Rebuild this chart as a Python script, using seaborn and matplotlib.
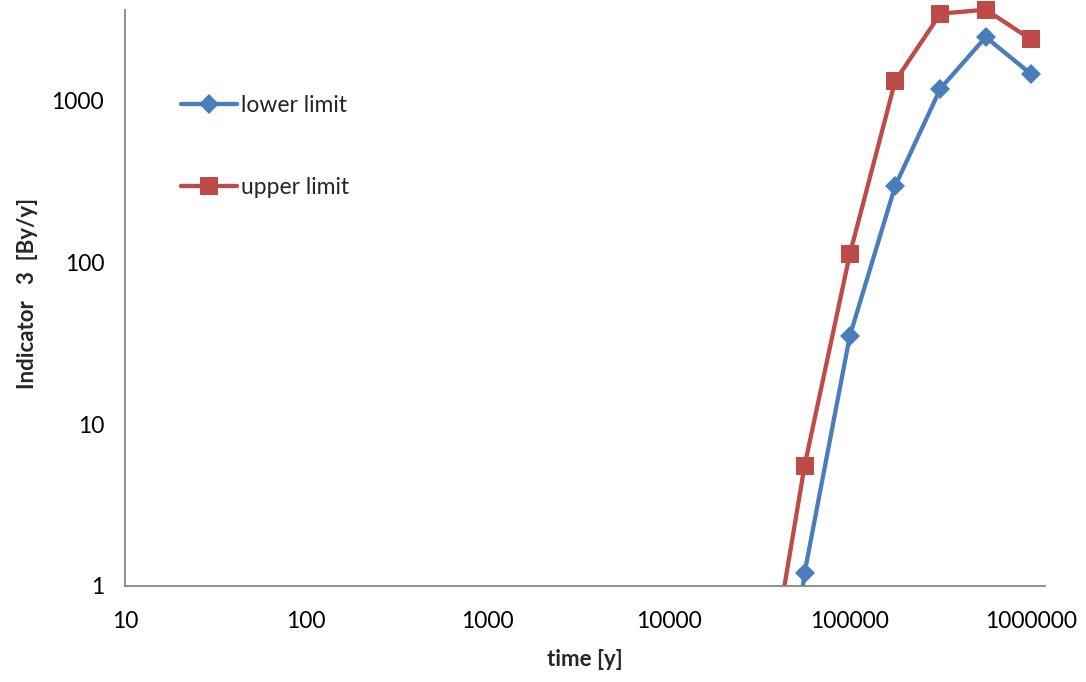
import matplotlib
matplotlib.use("Agg")
import matplotlib.pyplot as plt
import numpy as np
import pandas as pd
import seaborn as sns

# Time points [y] and indicator values [By/y] for both limits
time_y = [31623, 56234, 100000, 177828, 316228, 562341, 1000000]
lower_limit = [0.008, 1.2, 35, 295, 1180, 2450, 1450]
upper_limit = [0.118, 5.5, 112, 1310, 3420, 3620, 2370]

series_names = ["lower limit", "upper limit"]
x_ticks = [10, 100, 1000, 10000, 100000, 1000000]
y_ticks = [1, 10, 100, 1000]

df = pd.DataFrame({
    "time": time_y * 2,
    "value": lower_limit + upper_limit,
    "series": [series_names[0]] * len(time_y) + [series_names[1]] * len(time_y),
})

sns.set_style("white")
plt.rcParams["font.family"] = ["Lato", "DejaVu Sans"]

fig = plt.figure(figsize=(10.86, 6.82), dpi=100)
ax = fig.add_axes([125 / 1086, 1 - 586 / 682, 920 / 1086, 586 / 682 - 0.002])

palette = {"lower limit": "#4A7EBB", "upper limit": "#BE4B48"}
sns.lineplot(
    data=df, x="time", y="value", hue="series", style="series",
    palette=palette, markers={"lower limit": "D", "upper limit": "s"},
    dashes=False, linewidth=3.1, markeredgewidth=0, ax=ax, legend=False,
)
sizes = {0: 10.5, 1: 13.5}
for i, ln in enumerate(ax.lines[:2]):
    ln.set_markersize(sizes[i])
    ln.set_solid_capstyle("round")

ax.set_xscale("log")
ax.set_yscale("log")
ax.set_xlim(10, 10 ** 6.077)
ytop = 10 ** 3.556
ax.set_ylim(1, 10 ** 3.61)
ax.spines["left"].set_bounds(1, ytop)

ax.set_xticks(x_ticks)
ax.set_xticklabels([str(v) for v in x_ticks])
ax.set_yticks(y_ticks)
ax.set_yticklabels([str(v) for v in y_ticks])
ax.minorticks_off()

for side in ["top", "right"]:
    ax.spines[side].set_visible(False)
for side in ["left", "bottom"]:
    ax.spines[side].set_color("#868686")
    ax.spines[side].set_linewidth(1.3)
ax.tick_params(axis="both", which="major", direction="out", length=6, width=1.1,
               color="#868686", labelsize=16.5, labelcolor="black", pad=12)
ax.tick_params(axis="y", pad=9)

ax.set_xlabel("time [y]", fontsize=16, fontweight="bold", labelpad=12)
ax.set_ylabel("Indicator   3  [By/y]", fontsize=16, fontweight="bold", labelpad=10)

ax.legend(handles=ax.lines[:2], labels=series_names, loc="center left",
          bbox_to_anchor=((181 - 125) / 920, (586 - 152) / 577), frameon=False,
          fontsize=16.5, handlelength=2.45, handletextpad=0.15, labelspacing=2.66,
          borderpad=0, borderaxespad=0)

fig.savefig("out.png", dpi=100)
